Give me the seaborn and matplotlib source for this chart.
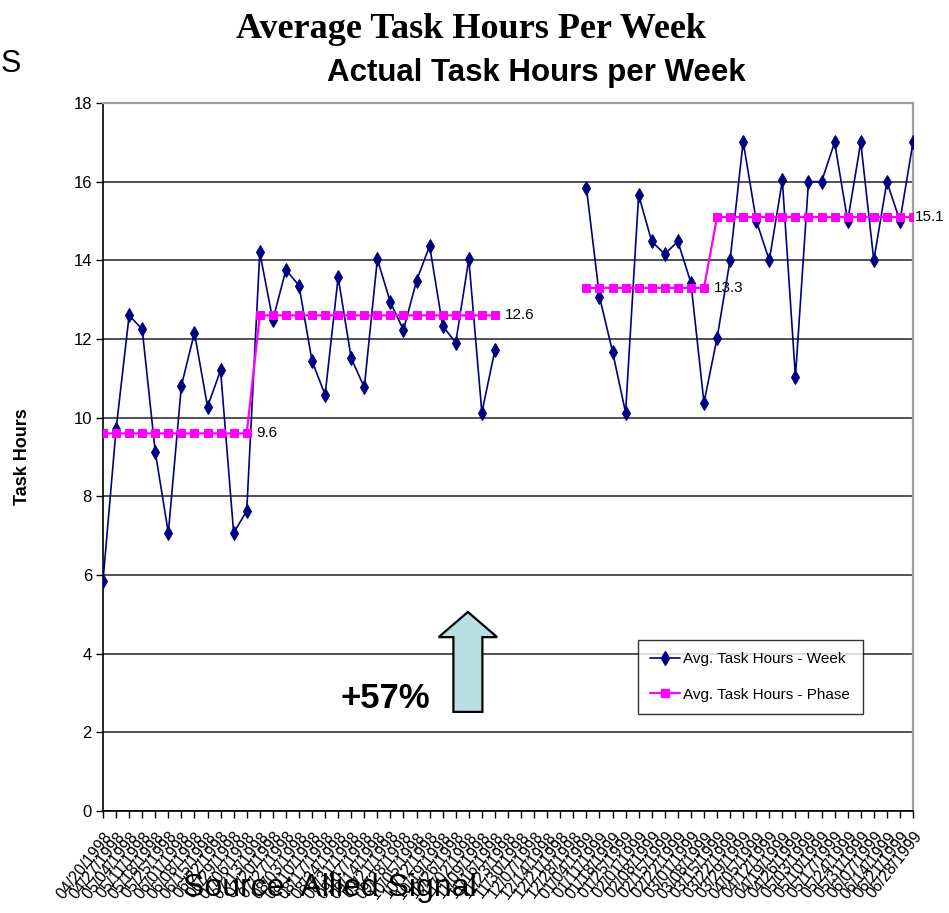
import numpy as np
import pandas as pd
import matplotlib
matplotlib.use("Agg")
import matplotlib.pyplot as plt
import matplotlib.patches as mpatches
from matplotlib.lines import Line2D
import seaborn as sns


# ================== DATA ==================

week_dates = pd.date_range("1998-04-20", "1999-06-28", freq="7D").strftime("%m/%d/%Y").tolist()

week_hours = [
    5.85, 9.7, 12.6, 12.25, 9.13, 7.07, 10.81, 12.16, 10.28, 11.2,
    7.07, 7.63, 14.2, 12.48, 13.76, 13.36, 11.44, 10.58, 13.57, 11.51,
    10.77, 14.03, 12.93, 12.23, 13.48, 14.37, 12.33, 11.91, 14.03, 10.13,
    11.72, np.nan, np.nan, np.nan, np.nan, np.nan, np.nan, 15.85, 13.08, 11.68,
    10.13, 15.66, 14.48, 14.16, 14.48, 13.43, 10.38, 12.02, 14.01, 17.02,
    15.01, 14.0, 16.03, 11.03, 16.0, 16.0, 17.0, 15.0, 17.0, 14.0,
    16.0, 15.0, 17.0,
]

phase_hours = (
    [9.6] * 12
    + [12.6] * 19
    + [np.nan] * 6
    + [13.3] * 10
    + [15.1] * 16
)

# two blocks of weeks with a gap between them
segment = [0] * 31 + [np.nan] * 6 + [1] * 26

week_label = "Avg. Task Hours - Week"
phase_label = "Avg. Task Hours - Phase"
gain_text = "+57%"

NAVY = "#000080"
MAGENTA = "#ff00ff"

# ================== PLOT ==================

sns.set_style("white")
plt.rcParams["font.family"] = ["Liberation Sans", "DejaVu Sans"]
plt.rcParams["text.color"] = "black"
plt.rcParams["axes.labelcolor"] = "black"
plt.rcParams["xtick.color"] = "black"
plt.rcParams["ytick.color"] = "black"

df = pd.DataFrame({
    "idx": np.arange(len(week_dates)),
    "week": week_hours,
    "phase": phase_hours,
    "seg": segment,
})

fig = plt.figure(figsize=(9.49, 9.13), dpi=100)
ax = fig.add_axes([103 / 949, 1 - 811 / 913, 810 / 949, 708 / 913])

d = df.dropna(subset=["week"])
sns.lineplot(data=d, x="idx", y="week", units="seg", estimator=None,
             color=NAVY, marker="d", markersize=7.5, markeredgecolor=NAVY,
             linewidth=1.2, ax=ax, zorder=3)

p = df.dropna(subset=["phase"])
sns.lineplot(data=p, x="idx", y="phase", units="seg", estimator=None,
             color=MAGENTA, marker="s", markersize=6, markeredgecolor=MAGENTA,
             linewidth=1.6, ax=ax, zorder=4)

# value labels at the end of each phase (last one kept inside the figure)
vals = df["phase"].to_numpy()
last = len(vals) - 1
for i in range(len(vals)):
    if np.isnan(vals[i]):
        continue
    nxt = vals[i + 1] if i < last else np.nan
    if np.isnan(nxt) or nxt != vals[i]:
        off = 1 if i == last else 7
        ax.annotate(f"{vals[i]:.1f}", (i, vals[i]), xytext=(off, 0),
                    textcoords="offset points", ha="left", va="center",
                    fontsize=11, zorder=5, annotation_clip=False)

ax.set_xlim(0, len(week_dates) - 1)
ax.set_ylim(0, 18)
ax.set_yticks(np.arange(0, 19, 2))
ax.set_xticks(df["idx"])
ax.set_xticklabels(week_dates, rotation=52, ha="right", rotation_mode="anchor",
                   fontsize=11.5)
ax.tick_params(axis="y", labelsize=12, length=5, direction="out", left=True,
               width=1, pad=3)
ax.tick_params(axis="x", length=5, direction="out", bottom=True, width=1, pad=8)

ax.grid(axis="y", color="#333333", linewidth=1.2)
ax.set_axisbelow(True)

for side in ["top", "right"]:
    ax.spines[side].set_color("#a0a0a0")
    ax.spines[side].set_linewidth(1.6)
for side in ["left", "bottom"]:
    ax.spines[side].set_color("black")
    ax.spines[side].set_linewidth(1.2)

ax.set_xlabel("")
ax.set_ylabel("Task Hours", fontsize=13, fontweight="bold")
ax.yaxis.set_label_coords(-0.089, 0.5)

# legend
handles = [
    Line2D([], [], color=NAVY, marker="d", markersize=7, markeredgecolor=NAVY, linewidth=1.2),
    Line2D([], [], color=MAGENTA, marker="s", markersize=6, markeredgecolor=MAGENTA, linewidth=1.6),
]
leg = ax.legend(handles, [week_label, phase_label], loc="lower left",
                bbox_to_anchor=(0.660, 0.137), fontsize=11, frameon=True,
                fancybox=False, edgecolor="black", handlelength=2.0,
                handletextpad=0.2, labelspacing=1.4, borderpad=0.8,
                borderaxespad=0)
leg.get_frame().set_linewidth(1.0)
leg.set_zorder(6)

# arrow and percentage
arrow = mpatches.FancyArrow(27.93, 2.52, 0, 2.54, width=2.22, head_width=4.48,
                            head_length=0.64, length_includes_head=True,
                            facecolor="#b9dfe3", edgecolor="black",
                            linewidth=1.6, zorder=5)
ax.add_patch(arrow)
ax.text(21.6, 2.85, gain_text, fontsize=25, fontweight="bold",
        ha="center", va="center", zorder=5)

# titles and stray slide text
fig.text(0.496, 0.968, "Average Task Hours Per Week", ha="center", va="center",
         family="Liberation Serif", fontweight="bold", fontsize=26)
fig.text(0.565, 0.920, "Actual Task Hours per Week", ha="center", va="center",
         fontweight="bold", fontsize=22.5)
fig.text(1 / 949, 1 - 64 / 913, "S", ha="left", va="center", fontsize=22)
fig.text(330 / 949, 1 - 888 / 913, "Source: Allied Signal", ha="center",
         va="center", fontsize=23, zorder=10)

fig.savefig("out.png", dpi=100)
